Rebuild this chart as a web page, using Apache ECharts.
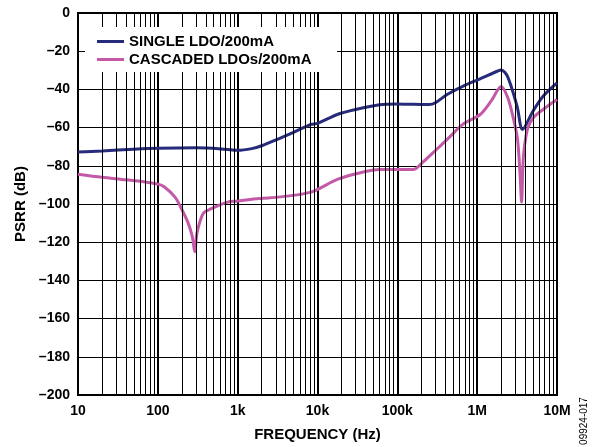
<!DOCTYPE html>
<html>
<head>
<meta charset="utf-8">
<script src="https://cdn.jsdelivr.net/npm/echarts@6/dist/echarts.min.js"></script>
<style>
  html, body { margin: 0; padding: 0; background: #fff; }
  #chart { width: 596px; height: 447px; }
</style>
</head>
<body>
<div id="chart"></div>
<script>
// PSRR vs frequency
const freqSingle = [10, 20, 50, 100, 300, 700, 1000, 1500, 2000, 3200, 5000, 8300, 10000, 18000, 30000, 60000,
    100000, 150000, 200000, 250000, 300000, 420000, 660000, 1100000, 1780000, 2000000, 2400000, 3160000, 3700000,
    5000000, 6700000, 10000000];
const dbSingle = [-72.8, -72.2, -71.3, -70.8, -70.6, -71.3, -71.9, -71, -69.5, -66, -62.5, -58.3, -57.8, -53, -50.5, -48,
    -47.6, -47.8, -47.9, -47.9, -47, -42.7, -38.4, -34.4, -30.5, -29.8, -33.2, -48.8, -61,
    -51.4, -43.6, -36.6];

const freqCascaded = [10, 20, 40, 70, 100, 120, 165, 195, 240, 270, 290, 310, 370, 460, 750, 1000, 1500, 3200, 8300,
    18000, 40000, 60000, 100000, 158000, 210000, 300000, 450000, 660000, 1100000, 1500000, 2000000, 2400000,
    2800000, 3200000, 3450000, 3600000, 3800000, 4260000, 5000000, 6700000, 10000000];
const dbCascaded = [-84.4, -86, -87.3, -88.5, -89.6, -91, -96.5, -102, -110, -117, -125, -115, -105, -102.6, -99, -98.5, -97.5, -96.4, -93.8,
    -87, -83, -82, -82, -82, -78, -72, -65, -58.3, -53, -46, -38.5, -44,
    -54, -66, -85, -99, -75, -61, -55, -50.5, -45.3];

const seriesNames = ['SINGLE LDO/200mA', 'CASCADED LDOs/200mA'];
const xTickLabels = { 10: '10', 100: '100', 1000: '1k', 10000: '10k', 100000: '100k', 1000000: '1M', 10000000: '10M' };

const font = "'Liberation Sans', Arial, sans-serif";

// minor log grid lines: 2..9 of every decade
const minorLines = [];
for (let d = 10; d < 1e7; d *= 10) {
    for (let k = 2; k <= 9; k++) minorLines.push({ xAxis: k * d });
}

function pairs(xs, ys) {
    return xs.map((x, i) => [x, ys[i]]);
}

const chart = echarts.init(document.getElementById('chart'));

chart.setOption({
    animation: false,
    backgroundColor: '#fff',
    textStyle: { fontFamily: font },
    grid: {
        left: 78, right: 39, top: 13, bottom: 50,
        show: true, borderColor: '#000', borderWidth: 2
    },
    legend: {
        data: seriesNames,
        orient: 'vertical',
        left: 97, top: 34,
        z: 101,
        padding: 0,
        itemGap: 3,
        itemWidth: 27, itemHeight: 3,
        icon: 'rect',
        textStyle: { fontSize: 15, fontWeight: 'bold', color: '#000', fontFamily: font }
    },
    xAxis: {
        type: 'log',
        logBase: 10,
        min: 10, max: 1e7,
        name: 'FREQUENCY (Hz)',
        nameLocation: 'middle',
        nameGap: 32,
        nameTextStyle: { fontSize: 15, fontWeight: 'bold', color: '#000', fontFamily: font },
        axisLine: { show: false },
        axisTick: { show: false },
        axisLabel: {
            margin: 9,
            fontSize: 14, fontWeight: 'bold', color: '#000', fontFamily: font,
            formatter: v => xTickLabels[Math.round(v)] || ''
        },
        splitLine: { show: true, lineStyle: { color: '#000', width: 2 } }
    },
    yAxis: {
        type: 'value',
        min: -200, max: 0, interval: 20,
        name: 'PSRR (dB)',
        nameLocation: 'middle',
        nameGap: 50,
        nameTextStyle: { fontSize: 15, fontWeight: 'bold', color: '#000', fontFamily: font },
        axisLine: { show: false },
        axisTick: { show: false },
        axisLabel: {
            margin: 8,
            fontSize: 14, fontWeight: 'bold', color: '#000', fontFamily: font,
            formatter: v => v === 0 ? '0' : '\u2013' + Math.abs(v)
        },
        splitLine: { show: true, lineStyle: { color: '#000', width: 1 } }
    },
    series: [{
        name: 'grid',
        type: 'line',
        data: [],
        z: 1,
        silent: true,
        markLine: {
            silent: true,
            symbol: 'none',
            label: { show: false },
            lineStyle: { color: '#000', width: 1, type: 'solid' },
            data: minorLines
        }
    }, {
        name: seriesNames[0],
        type: 'line',
        data: pairs(freqSingle, dbSingle),
        smooth: 0.3,
        showSymbol: false,
        z: 3,
        color: '#272b7b',
        lineStyle: { width: 3 }
    }, {
        name: seriesNames[1],
        type: 'line',
        data: pairs(freqCascaded, dbCascaded),
        smooth: 0.3,
        showSymbol: false,
        z: 3,
        color: '#c459a8',
        lineStyle: { width: 3 }
    }],
    graphic: [{
        // white box behind the legend
        type: 'rect',
        z: 100,
        shape: { x: 85, y: 27, width: 252, height: 45 },
        style: { fill: '#fff' }
    }, {
        type: 'text',
        x: 584, y: 421,
        rotation: Math.PI / 2,
        style: {
            text: '09924-017',
            fontSize: 10,
            fontFamily: font,
            fill: '#000',
            textAlign: 'center',
            textVerticalAlign: 'middle'
        }
    }]
});
</script>
</body>
</html>
